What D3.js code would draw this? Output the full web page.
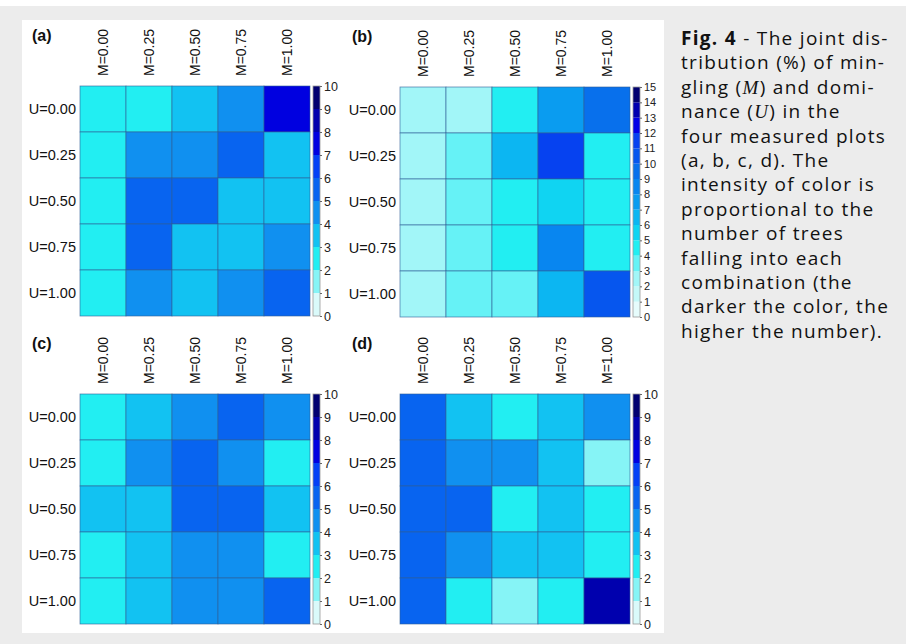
<!DOCTYPE html>
<html>
<head>
<meta charset="utf-8">
<script src="https://cdn.jsdelivr.net/npm/d3@7"></script>
<style>
body { margin: 0; background: #ececec; }
svg { display: block; }
</style>
</head>
<body>
<svg id="fig" width="906" height="644"></svg>
<script>
// categories
var uLabels = ["U=0.00", "U=0.25", "U=0.50", "U=0.75", "U=1.00"];
var mLabels = ["M=0.00", "M=0.25", "M=0.50", "M=0.75", "M=1.00"];

// joint distribution (%), rows = U, columns = M
var valuesA = [
  [2.5, 2.6, 3.5, 4.5, 7.5],
  [2.5, 4.5, 4.4, 5.5, 3.5],
  [2.5, 5.6, 5.6, 3.5, 3.6],
  [2.5, 5.6, 3.4, 3.5, 4.2],
  [2.5, 4.3, 3.6, 4.4, 5.5]
];
var valuesB = [
  [2.5, 2.3, 4.6, 7.5, 9.5],
  [2.6, 3.5, 6.5, 11.2, 4.5],
  [2.6, 3.5, 4.8, 5.8, 4.3],
  [2.4, 3.6, 4.8, 8.5, 4.8],
  [2.3, 3.6, 3.4, 6.5, 10.4]
];
var valuesC = [
  [2.5, 3.5, 4.5, 5.5, 4.5],
  [2.5, 4.5, 5.5, 4.3, 2.5],
  [3.8, 3.3, 5.7, 5.6, 3.5],
  [2.5, 3.5, 4.4, 4.2, 2.4],
  [2.5, 3.5, 4.4, 4.2, 5.5]
];
var valuesD = [
  [5.5, 3.5, 2.5, 3.5, 4.6],
  [5.5, 4.5, 4.6, 3.4, 1.8],
  [5.5, 5.8, 2.5, 3.5, 2.5],
  [5.5, 4.4, 3.6, 3.5, 2.6],
  [5.5, 2.5, 1.8, 2.4, 8.5]
];

// colour-bar maxima and tick labels
var maxA = 10, maxB = 15, maxC = 10, maxD = 10;
var ticks10 = [0, 1, 2, 3, 4, 5, 6, 7, 8, 9, 10];
var ticks15 = [0, 1, 2, 3, 4, 5, 6, 7, 8, 9, 10, 11, 12, 13, 14, 15];

var pal10 = ["#dafafa", "#86f4f6", "#22eef2", "#12c2f2", "#1090f0",
             "#0864f0", "#0440f6", "#0000e0", "#0000ae", "#000070"];
var pal15 = ["#e6fcfc", "#c4f8f8", "#a2f6f8", "#66f2f6", "#22eef2",
             "#10d4f2", "#0cb6f2", "#0a9cf0", "#0886f0", "#0870ec",
             "#0656ee", "#0642f0", "#0000e6", "#0000b0", "#000070"];

var captionLines = [
  [["Fig. 4", "b"], [" - The joint dis-", ""]],
  [["tribution (%) of min-", ""]],
  [["gling (", ""], ["M", "i"], [") and domi-", ""]],
  [["nance (", ""], ["U", "i"], [") in the", ""]],
  [["four measured plots", ""]],
  [["(a, b, c, d). The", ""]],
  [["intensity of color is", ""]],
  [["proportional  to the", ""]],
  [["number of trees", ""]],
  [["falling into each", ""]],
  [["combination (the", ""]],
  [["darker the color, the", ""]],
  [["higher the number).", ""]]
];

var svg = d3.select("#fig");
var size = 230;
var labFont = "Liberation Sans, Arial, sans-serif";

// page background pieces
svg.append("rect").attr("x", 0).attr("y", 0).attr("width", 906).attr("height", 6).attr("fill", "#ffffff");
svg.append("rect").attr("x", 22).attr("y", 20).attr("width", 642).attr("height", 613).attr("fill", "#ffffff");

function drawPanel(px, py, tag, values, vmax, pal, ticks, tickFont) {
  var g = svg.append("g").attr("transform", "translate(" + px + "," + py + ")");

  var x = d3.scaleBand().domain(mLabels).range([0, size]);
  var y = d3.scaleBand().domain(uLabels).range([0, size]);
  var color = d3.scaleQuantize().domain([0, vmax]).range(pal);

  var cells = [];
  values.forEach(function(row, i) {
    row.forEach(function(v, j) {
      cells.push({u: uLabels[i], m: mLabels[j], v: v});
    });
  });

  g.selectAll("rect.cell")
    .data(cells)
    .enter().append("rect")
    .attr("class", "cell")
    .attr("x", function(d) { return x(d.m); })
    .attr("y", function(d) { return y(d.u); })
    .attr("width", x.bandwidth())
    .attr("height", y.bandwidth())
    .attr("fill", function(d) { return color(d.v); })
    .attr("stroke", "#2f5f96")
    .attr("stroke-opacity", 0.75)
    .attr("stroke-width", 0.8);

  var ay = g.append("g")
    .call(d3.axisLeft(y).tickSize(0).tickPadding(4));
  ay.select(".domain").remove();
  ay.selectAll("text").attr("font-size", 14.5).attr("fill", "#111").attr("font-family", labFont);

  var ax = g.append("g")
    .call(d3.axisTop(x).tickSize(0));
  ax.select(".domain").remove();
  ax.selectAll("text")
    .attr("transform", "rotate(-90)")
    .attr("text-anchor", "start")
    .attr("x", 10)
    .attr("y", 0)
    .attr("dy", "0.35em")
    .attr("font-size", 14)
    .attr("fill", "#111")
    .attr("font-family", labFont);

  // colour bar
  var cb = d3.scaleLinear().domain([0, vmax]).range([size, 0]);
  var bar = g.append("g").attr("transform", "translate(" + (size + 3) + ",0)");
  bar.selectAll("rect")
    .data(pal)
    .enter().append("rect")
    .attr("x", 0)
    .attr("y", function(d, i) { return cb(i + 1); })
    .attr("width", 7)
    .attr("height", function(d, i) { return cb(i) - cb(i + 1); })
    .attr("fill", function(d) { return d; });
  bar.append("rect")
    .attr("x", 0).attr("y", 0).attr("width", 7).attr("height", size)
    .attr("fill", "none").attr("stroke", "#999").attr("stroke-width", 0.8);
  var cax = bar.append("g").attr("transform", "translate(7,0)")
    .call(d3.axisRight(cb).tickValues(ticks).tickFormat(d3.format("d")).tickSize(2).tickPadding(2));
  cax.select(".domain").remove();
  cax.selectAll("line").attr("stroke", "#666");
  cax.selectAll("text")
    .attr("font-size", tickFont)
    .attr("fill", "#222")
    .attr("font-family", labFont);

  svg.append("text")
    .attr("x", px - 48)
    .attr("y", py - 45)
    .attr("font-family", labFont)
    .attr("font-weight", "bold")
    .attr("font-size", 16)
    .attr("fill", "#111")
    .text(tag);
}

drawPanel(80, 86, "(a)", valuesA, maxA, pal10, ticks10, 12.5);
drawPanel(400, 87, "(b)", valuesB, maxB, pal15, ticks15, 11);
drawPanel(80, 394, "(c)", valuesC, maxC, pal10, ticks10, 12.5);
drawPanel(400, 394, "(d)", valuesD, maxD, pal10, ticks10, 12.5);

// caption
var cap = svg.append("text")
  .attr("font-family", "Open Sans, Lato, sans-serif")
  .attr("font-size", 19)
  .attr("letter-spacing", 1.3)
  .attr("fill", "#111");
captionLines.forEach(function(line, i) {
  line.forEach(function(seg, k) {
    var t = cap.append("tspan").text(seg[0]);
    if (k === 0) t.attr("x", 681).attr("y", 45 + i * 24.4);
    if (seg[1] === "b") t.attr("font-weight", "bold");
    if (seg[1] === "i") t.attr("font-style", "italic").attr("font-family", "Liberation Serif, serif");
  });
});
</script>
</body>
</html>
